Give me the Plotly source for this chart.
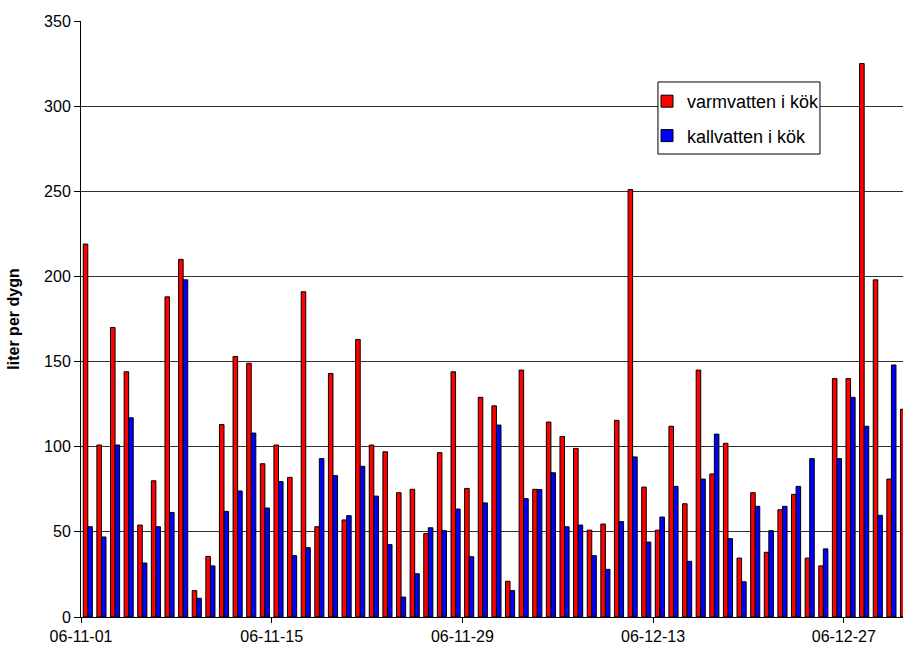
import pandas as pd
import plotly.graph_objs as go

# daily consumption, 2006-11-01 .. 2006-12-31
dates = pd.date_range("2006-11-01", periods=61, freq="D")

varmvatten = [
    219, 101, 170, 144, 54, 80, 188, 210, 15.5, 35.6,
    113, 153, 149, 90, 101, 82, 191, 53, 143, 57,
    163, 101, 97, 73, 75, 49, 96.5, 144, 75.5, 129,
    124, 21, 145, 75, 114.5, 106, 99, 51, 54.6, 115.5,
    251, 76.3, 51, 112, 66.5, 145, 84, 102, 34.6, 73,
    38, 63, 72, 34.6, 30, 140, 140, 325, 198, 81,
    122,
]
kallvatten = [
    53, 47, 101, 117, 31.7, 53, 61.4, 198, 11, 30,
    62, 74, 108, 64, 79.5, 36, 40.7, 93, 83, 59.5,
    88.5, 71, 42.5, 11.7, 25.4, 52.4, 50.7, 63.4, 35.4, 67,
    112.7, 15.5, 69.5, 74.8, 84.7, 53, 54, 36, 28, 56,
    94, 44, 58.7, 76.7, 32.7, 81, 107.4, 46, 20.7, 65,
    50.7, 65, 76.7, 93, 40, 93, 129, 112, 59.7, 148,
    None,
]

font = "Liberation Sans, Arial, sans-serif"
day_ms = 86400000

data = [
    go.Bar(
        x=dates,
        y=varmvatten,
        name="varmvatten i kök",
        xperiod=day_ms,
        xperiodalignment="middle",
        marker=dict(color="#ff0000", line=dict(color="black", width=1)),
        legendgroup="a",
    ),
    go.Bar(
        x=dates,
        y=kallvatten,
        name="kallvatten i kök",
        xperiod=day_ms,
        xperiodalignment="middle",
        marker=dict(color="#0000ff", line=dict(color="black", width=1)),
        legendgroup="b",
    ),
]

layout = go.Layout(
    width=903,
    height=655,
    barmode="group",
    bargap=0.33,
    bargroupgap=0,
    plot_bgcolor="white",
    paper_bgcolor="white",
    font=dict(family=font, color="black", size=16),
    margin=dict(l=81, r=0, t=21, b=38, autoexpand=False),
    showlegend=True,
    legend=dict(
        x=0.6886,
        y=0.896,
        xanchor="left",
        yanchor="top",
        bgcolor="rgba(0,0,0,0)",
        borderwidth=0,
        font=dict(family=font, size=18),
        tracegroupgap=8,
    ),
    xaxis=dict(
        type="date",
        range=["2006-11-01", "2006-12-31 08:24"],
        tick0="2006-11-01",
        dtick=14 * day_ms,
        tickformat="%y-%m-%d",
        ticks="outside",
        ticklen=5,
        tickcolor="black",
        showline=True,
        linecolor="black",
        linewidth=1,
        showgrid=False,
        zeroline=False,
        automargin=False,
    ),
    yaxis=dict(
        range=[0, 350],
        dtick=50,
        ticks="outside",
        ticklen=6,
        tickcolor="black",
        showline=True,
        linecolor="black",
        linewidth=1,
        gridcolor="#303030",
        gridwidth=1,
        zeroline=False,
        automargin=False,
        title=dict(
            text="<b>liter per dygn</b>",
            font=dict(family=font, size=16),
            standoff=20,
        ),
    ),
    shapes=[
        dict(
            type="rect",
            xref="paper",
            yref="paper",
            x0=0.7019,
            x1=0.899,
            y0=0.7768,
            y1=0.8977,
            fillcolor="white",
            line=dict(color="black", width=1),
            layer="above",
        )
    ],
)

fig = go.Figure(data=data, layout=layout)
fig.write_html(
    "out.html",
    config={"displayModeBar": False},
    post_script="document.body.style.margin = '0';",
)
